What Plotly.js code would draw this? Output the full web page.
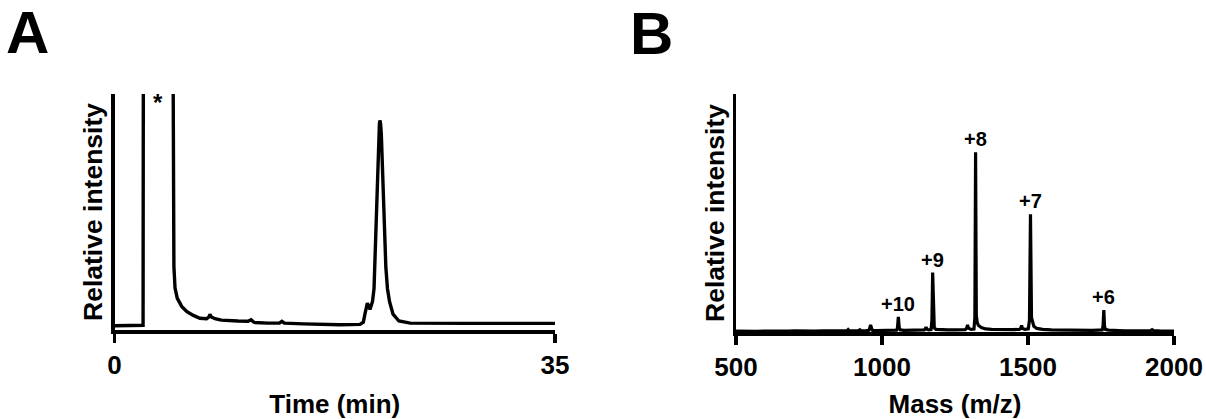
<!DOCTYPE html>
<html>
<head>
<meta charset="utf-8">
<script src="https://cdn.plot.ly/plotly-3.0.1.min.js"></script>
<style>
  html, body { margin: 0; padding: 0; background: #ffffff; }
  #chart { width: 1206px; height: 419px; }
</style>
</head>
<body>
<div id="chart"></div>
<script>
// Panel A: HPLC chromatogram (time in min, relative intensity, axis top = 1)
const timeMin = [0, 1.0, 2.2, 2.27, 2.3, 3.4, 4.62, 4.67, 4.72, 4.81, 4.99, 5.34, 5.73, 6.26, 6.79, 7.32, 7.5, 7.58, 7.7, 7.98, 8.5, 9.8, 10.6, 10.85, 11.1, 12.2, 13.1, 13.3, 13.5, 15.0, 17.9, 19.5, 19.77, 19.9, 20.09, 20.3, 20.5, 20.62, 20.67, 20.75, 20.83, 20.91, 20.99, 21.05, 21.09, 21.14, 21.2, 21.28, 21.36, 21.45, 21.56, 21.69, 21.85, 22.13, 22.6, 23.5, 25, 28, 31, 35];
const chromIntensity = [0.018, 0.018, 0.018, 0.02, 1.6, 4.0, 1.6, 0.6, 0.27, 0.178, 0.134, 0.1, 0.079, 0.062, 0.05, 0.048, 0.055, 0.066, 0.055, 0.048, 0.042, 0.038, 0.037, 0.043, 0.032, 0.029, 0.029, 0.037, 0.029, 0.026, 0.022, 0.024, 0.033, 0.068, 0.114, 0.087, 0.121, 0.175, 0.265, 0.405, 0.545, 0.685, 0.83, 0.875, 0.888, 0.875, 0.83, 0.685, 0.545, 0.405, 0.265, 0.175, 0.121, 0.067, 0.038, 0.029, 0.028, 0.028, 0.028, 0.028];
const timeTicks = [0, 35];
const solventMark = {label: "*", time: 3.46, level: 1.0};

// Panel B: ESI mass spectrum (m/z, relative intensity, axis top = 1)
const massMz = [500, 520, 545, 570, 600, 625, 650, 680, 700, 720, 745, 770, 800, 830, 860, 880, 884, 888, 905, 920, 924, 928, 945, 955, 958, 961, 964, 967, 980, 1000, 1020, 1040, 1050, 1053, 1056, 1059, 1062, 1075, 1095, 1115, 1135, 1145, 1148, 1151, 1154, 1160, 1168, 1171, 1173.5, 1176, 1179, 1185, 1200, 1225, 1250, 1270, 1285, 1290, 1293, 1296, 1305, 1315, 1318, 1320.5, 1323, 1326, 1330, 1340, 1355, 1375, 1400, 1425, 1450, 1470, 1475, 1478, 1481, 1490, 1501, 1505, 1508.5, 1512, 1516, 1520, 1530, 1550, 1580, 1610, 1640, 1670, 1700, 1720, 1740, 1754, 1757, 1759.7, 1762, 1765, 1775, 1800, 1830, 1860, 1890, 1910, 1920, 1925, 1930, 1950, 1975, 2000];
const massIntensity = [0.004, 0.003, 0.004, 0.003, 0.004, 0.003, 0.004, 0.004, 0.005, 0.004, 0.005, 0.004, 0.005, 0.005, 0.005, 0.005, 0.01, 0.005, 0.005, 0.005, 0.009, 0.005, 0.006, 0.007, 0.016, 0.03, 0.016, 0.007, 0.006, 0.006, 0.007, 0.007, 0.008, 0.018, 0.064, 0.018, 0.009, 0.007, 0.007, 0.008, 0.008, 0.009, 0.013, 0.02, 0.012, 0.009, 0.01, 0.05, 0.25, 0.05, 0.018, 0.011, 0.009, 0.009, 0.009, 0.01, 0.01, 0.016, 0.03, 0.016, 0.011, 0.012, 0.06, 0.755, 0.07, 0.04, 0.028, 0.019, 0.013, 0.011, 0.01, 0.01, 0.01, 0.011, 0.016, 0.027, 0.015, 0.011, 0.013, 0.05, 0.495, 0.06, 0.035, 0.024, 0.015, 0.011, 0.009, 0.008, 0.008, 0.007, 0.007, 0.007, 0.008, 0.009, 0.024, 0.092, 0.024, 0.011, 0.008, 0.006, 0.005, 0.005, 0.005, 0.005, 0.006, 0.01, 0.006, 0.005, 0.004, 0.004];
const massTicks = [500, 1000, 1500, 2000];
const chargeLabels = ["+10", "+9", "+8", "+7", "+6"];
const chargeMz = [1056, 1173.5, 1320.5, 1508.5, 1759.7];
const chargeHeight = [0.064, 0.25, 0.755, 0.495, 0.092];

const FONT = "Liberation Sans, Arial, Helvetica, sans-serif";
const black = "#000000";

const traces = [
  {x: timeMin, y: chromIntensity, type: "scatter", mode: "lines",
   line: {color: black, width: 3.4}, xaxis: "x", yaxis: "y", hoverinfo: "skip"},
  {x: massMz, y: massIntensity, type: "scatter", mode: "lines",
   line: {color: black, width: 3.2}, xaxis: "x2", yaxis: "y2", hoverinfo: "skip"}
];

function xAxis(domain, range, ticks, titleText) {
  return {
    domain: domain, range: range, tickvals: ticks, ticktext: ticks.map(String),
    showline: true, linecolor: black, linewidth: 3.5, mirror: false,
    ticks: "outside", ticklen: 9, tickwidth: 3.5, tickcolor: black,
    showgrid: false, zeroline: false,
    tickfont: {family: FONT, size: 26, color: black, weight: "bold"},
    title: {text: "<b>" + titleText + "</b>", font: {family: FONT, size: 26, color: black}, standoff: 18},
    fixedrange: true
  };
}
function yAxis(domain, anchor) {
  return {
    domain: domain, range: [0, 1], anchor: anchor,
    showline: true, linecolor: black, linewidth: 3.5,
    ticks: "", showticklabels: false, showgrid: false, zeroline: false,
    title: {text: "<b>Relative intensity</b>", font: {family: FONT, size: 26.5, color: black}, standoff: 1},
    fixedrange: true
  };
}

const annotations = [
  {xref: "paper", yref: "paper", x: 5 / 1206, y: 1, xanchor: "left", yanchor: "top", yshift: 2, borderpad: 0,
   text: "<b>A</b>", showarrow: false, font: {family: FONT, size: 60, color: black}},
  {xref: "paper", yref: "paper", x: 629 / 1206, y: 1, xanchor: "left", yanchor: "top", yshift: 1, borderpad: 0,
   text: "<b>B</b>", showarrow: false, font: {family: FONT, size: 60, color: black}},
  {xref: "x", yref: "y", x: solventMark.time, y: solventMark.level, xanchor: "center", yanchor: "top",
   text: "<b>" + solventMark.label + "</b>", showarrow: false, yshift: 7,
   font: {family: FONT, size: 24, color: black}}
];
chargeLabels.forEach((lab, i) => {
  annotations.push({xref: "x2", yref: "y2", x: chargeMz[i], y: chargeHeight[i],
    xanchor: "center", yanchor: "bottom", yshift: 0, text: "<b>" + lab + "</b>", showarrow: false,
    font: {family: FONT, size: 20, color: black}});
});

const layout = {
  width: 1206, height: 419,
  margin: {l: 0, r: 0, t: 0, b: 0},
  paper_bgcolor: "#ffffff", plot_bgcolor: "#ffffff",
  showlegend: false,
  xaxis: xAxis([114.5 / 1206, 555 / 1206], [0, 35], timeTicks, "Time (min)"),
  yaxis: yAxis([(419 - 330) / 419, (419 - 94) / 419], "x"),
  xaxis2: Object.assign(xAxis([736 / 1206, 1174 / 1206], [500, 2000], massTicks, "Mass (m/z)"), {anchor: "y2"}),
  yaxis2: yAxis([(419 - 332) / 419, (419 - 94) / 419], "x2"),
  annotations: annotations
};
layout.xaxis.anchor = "y";

Plotly.newPlot("chart", traces, layout, {staticPlot: true, displayModeBar: false});
</script>
</body>
</html>
